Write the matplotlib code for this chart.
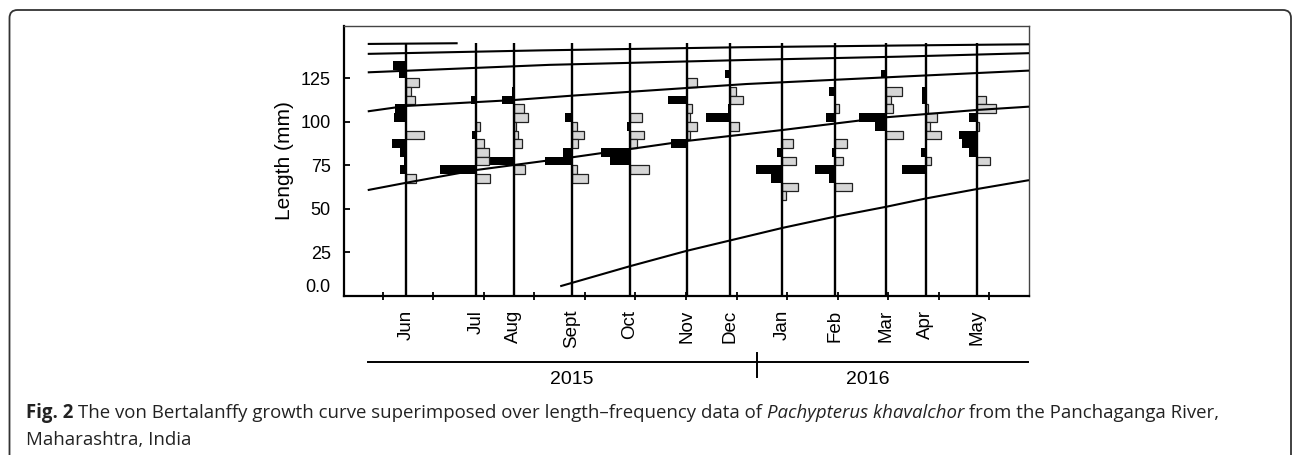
import matplotlib
matplotlib.use('Agg')
import matplotlib.pyplot as plt
import matplotlib.transforms as mtransforms
from matplotlib.patches import FancyBboxPatch

plt.rcParams['font.family'] = ['Liberation Sans', 'DejaVu Sans']

# sample months and where their vertical lines sit (x axis in months, 0 = first tick)
months = ['Jun', 'Jul', 'Aug', 'Sept', 'Oct', 'Nov', 'Dec', 'Jan', 'Feb', 'Mar', 'Apr', 'May']
sample_x = [0.46, 1.84, 2.59, 3.74, 4.89, 6.01, 6.87, 7.91, 8.94, 9.96, 10.75, 11.76]
month_ticks = list(range(13))

# black bars (left of each line): month index, bin lower edge (mm), bar length
black_month = [0, 0, 0, 0, 0, 0, 0, 0,
               1, 1, 1,
               2, 2, 2,
               3, 3, 3,
               4, 4, 4,
               5, 5,
               6, 6, 6,
               7, 7, 7,
               8, 8, 8, 8, 8,
               9, 9, 9,
               10, 10, 10, 10,
               11, 11, 11, 11]
black_bin = [130, 125, 105, 100, 85, 80, 75, 70,
             110, 90, 70,
             115, 110, 75,
             100, 80, 75,
             95, 80, 75,
             110, 85,
             125, 105, 100,
             80, 70, 65,
             115, 100, 80, 70, 65,
             125, 100, 95,
             115, 110, 80, 70,
             100, 90, 85, 80]
black_len = [12.7, 6.7, 10.7, 11.7, 14.0, 5.7, 2.0, 5.7,
             4.7, 4.0, 35.7,
             2.0, 11.7, 25.7,
             7.3, 9.0, 26.7,
             2.7, 29.0, 20.0,
             19.0, 16.0,
             5.0, 1.7, 24.0,
             5.3, 26.0, 11.0,
             5.3, 8.7, 3.0, 20.0, 5.3,
             5.0, 27.0, 11.0,
             3.5, 3.5, 5.3, 24.0,
             7.5, 17.8, 14.8, 7.5]

# grey bars (right of each line)
grey_month = [0, 0, 0, 0, 0,
              1, 1, 1, 1, 1,
              2, 2, 2, 2, 2, 2,
              3, 3, 3, 3, 3,
              4, 4, 4, 4,
              5, 5, 5, 5, 5,
              6, 6, 6,
              7, 7, 7, 7,
              8, 8, 8, 8,
              9, 9, 9, 9,
              10, 10, 10, 10, 10,
              11, 11, 11, 11]
grey_bin = [120, 115, 110, 90, 65,
            95, 85, 80, 75, 65,
            105, 100, 95, 90, 85, 70,
            95, 90, 85, 70, 65,
            100, 90, 85, 70,
            120, 105, 100, 95, 90,
            115, 110, 95,
            85, 75, 60, 55,
            105, 85, 75, 60,
            115, 110, 105, 90,
            105, 100, 95, 90, 75,
            110, 105, 95, 75]
grey_len = [13.3, 5.3, 9.3, 17.7, 10.3,
            3.7, 7.7, 12.7, 12.7, 14.3,
            10.3, 14.3, 2.7, 4.3, 8.7, 11.0,
            5.0, 11.7, 5.7, 5.0, 15.7,
            12.3, 14.3, 6.7, 19.3,
            10.7, 6.0, 3.3, 10.7, 4.0,
            6.0, 12.7, 9.3,
            10.7, 13.3, 15.7, 4.0,
            4.0, 12.0, 8.0, 17.3,
            15.7, 4.7, 7.3, 16.7,
            2.0, 11.0, 3.7, 15.5, 5.0,
            9.5, 19.2, 2.5, 13.2]

# growth curves
curve_a_x = [-0.30, 1.48]
curve_a_y = [144.7, 145.1]
curve_b_x = [-0.30, 3.11, 7.07, 10.23, 12.79]
curve_b_y = [139.0, 141.0, 142.8, 143.8, 144.5]
curve_c_x = [-0.30, 3.30, 7.20, 10.23, 12.79]
curve_c_y = [128.4, 132.7, 135.5, 137.4, 139.4]
curve_d_x = [-0.30, 0.46, 2.59, 3.74, 7.20, 10.23, 12.79]
curve_d_y = [106.0, 109.1, 112.5, 115.0, 121.7, 125.9, 129.4]
curve_e_x = [-0.30, 0.46, 1.84, 3.74, 6.01, 7.91, 9.96, 11.76, 12.79]
curve_e_y = [60.8, 65.0, 72.3, 79.6, 89.0, 95.3, 102.6, 106.8, 108.7]
curve_f_x = [3.51, 4.89, 6.01, 7.91, 8.94, 9.96, 10.75, 11.76, 12.79]
curve_f_y = [5.6, 17.1, 25.9, 39.1, 45.5, 51.2, 56.0, 61.4, 66.5]

years = ['2015', '2016']
year_x = [3.74, 9.60]
year_split = 7.40

W, H = 1292, 455
fig = plt.figure(figsize=(W / 100, H / 100), dpi=100)
ax = fig.add_axes([344 / W, (H - 296) / H, (1029 - 344) / W, (296 - 26) / H])
ax.set_xlim(-0.77, 12.79)
ax.set_ylim(0, 155)

bar_scale = 1 / 50.55
bin_w = 5

# sample lines
ax.vlines(sample_x, 0, 145.3, color='black', lw=1.7, zorder=3)

for m, b, l in zip(black_month, black_bin, black_len):
    ax.barh(b, -l * bar_scale, left=sample_x[m], height=bin_w, align='edge',
            color='black', lw=0, zorder=2)
for m, b, l in zip(grey_month, grey_bin, grey_len):
    ax.barh(b, l * bar_scale, left=sample_x[m], height=bin_w, align='edge',
            facecolor='#d6d6d6', edgecolor='#222222', lw=0.9, zorder=2)

for cx, cy in [(curve_a_x, curve_a_y), (curve_b_x, curve_b_y), (curve_c_x, curve_c_y),
               (curve_d_x, curve_d_y), (curve_e_x, curve_e_y), (curve_f_x, curve_f_y)]:
    ax.plot(cx, cy, color='black', lw=1.5, zorder=4, solid_capstyle='butt')

# axes styling
for s in ['left', 'bottom']:
    ax.spines[s].set_linewidth(1.6)
for s in ['top', 'right']:
    ax.spines[s].set_linewidth(1.0)
    ax.spines[s].set_color('#444444')

ax.set_xticks(month_ticks)
ax.set_xticklabels([])
ax.tick_params(axis='x', direction='inout', length=6, width=1.3)
ax.set_yticks([25, 50, 75, 100, 125])
ax.tick_params(axis='y', direction='in', length=4.5, width=1.3, pad=9.5, labelsize=13)
ax.annotate('0.0', xy=(0, 5), xycoords=('axes fraction', 'data'), xytext=(-9.5, 0),
            textcoords='offset points', ha='right', va='center', fontsize=13)

fig.text(285 / W, 1 - 161 / H, 'Length (mm)', rotation=90, ha='center', va='center',
         fontsize=15)

for name, x in zip(months, sample_x):
    ax.annotate(name, xy=(x, 0), xycoords=('data', 'axes fraction'), xytext=(0, -10),
                textcoords='offset points', rotation=90, ha='center', va='top',
                fontsize=13.5)

# year bar under the month labels
trans = mtransforms.blended_transform_factory(ax.transData, ax.transAxes)
ax.plot([-0.29, 12.77], [-0.2433, -0.2433], color='black', lw=1.4, transform=trans,
        clip_on=False)
ax.plot([year_split, year_split], [-0.211, -0.300], color='black', lw=1.4,
        transform=trans, clip_on=False)
for y, x in zip(years, year_x):
    ax.text(x, -0.311, y, transform=trans, ha='center', va='center', fontsize=14)

# rounded frame round the figure
frame = FancyBboxPatch((0.095, -0.4), 12.91 - 0.095, 4.45 + 0.4,
                       boxstyle='round,pad=0,rounding_size=0.08',
                       transform=fig.dpi_scale_trans, fill=False,
                       edgecolor='#333333', lw=1.3)
fig.add_artist(frame)

# caption with bold / italic runs
caption1 = [('Fig. 2 ', 'bold'), ('The von Bertalanffy growth curve superimposed over '
            'length\u2013frequency data of ', 'normal'),
            ('Pachypterus khavalchor', 'italic'),
            (' from the Panchaganga River,', 'normal')]
caption2 = 'Maharashtra, India'
cap_font = 'Open Sans'
renderer = fig.canvas.get_renderer()


def cap_kw(st, size):
    kw = dict(fontsize=size, family=cap_font)
    if st == 'bold':
        kw['fontweight'] = 'bold'
    if st == 'italic':
        kw['fontstyle'] = 'italic'
    return kw


def run_width(parts, size):
    total = 0
    for txt, st in parts:
        t1 = fig.text(0, 0, txt + 'x', **cap_kw(st, size))
        t2 = fig.text(0, 0, 'x', **cap_kw(st, size))
        w = t1.get_window_extent(renderer).width - t2.get_window_extent(renderer).width
        t1.remove()
        t2.remove()
        total += w
    return total


size = 13.0
size = size * (1192 / run_width(caption1, size))

x = 26
for txt, st in caption1:
    fig.text(x / W, 1 - 418.3 / H, txt, color='#222222', va='baseline', **cap_kw(st, size))
    x += run_width([(txt, st)], size)
fig.text(26 / W, 1 - 445 / H, caption2, color='#222222', va='baseline',
         **cap_kw('normal', size))

fig.savefig('out.png', dpi=100)
